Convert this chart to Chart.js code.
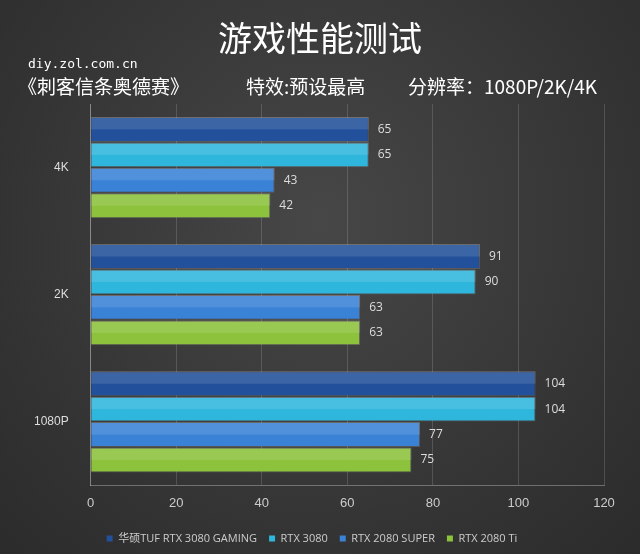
<!DOCTYPE html>
<html>
<head>
<meta charset="utf-8">
<script src="https://cdn.jsdelivr.net/npm/chart.js@4.4.0/dist/chart.umd.min.js"></script>
<style>
  html, body { margin: 0; padding: 0; background: #333; }
  #wrap { width: 640px; height: 554px; background: radial-gradient(ellipse at 50% 40%, #474747 0%, #333 70%, #2b2b2b 100%); }
</style>
</head>
<body>
<div id="wrap"><canvas id="c" width="640" height="554"></canvas></div>
<script>
const categories = ['4K', '2K', '1080P'];
const seriesNames = ['华硕TUF RTX 3080 GAMING', 'RTX 3080', 'RTX 2080 SUPER', 'RTX 2080 Ti'];
const tufValues = [65, 91, 104];
const rtx3080Values = [65, 90, 104];
const rtx2080sValues = [43, 63, 77];
const rtx2080tiValues = [42, 63, 75];
const xTicks = [0, 20, 40, 60, 80, 100, 120];

const colors = ['#22509a', '#2fb6dc', '#3a82d6', '#8cc23c'];
const allValues = [tufValues, rtx3080Values, rtx2080sValues, rtx2080tiValues];

// Titles and value labels
const decor = {
    id: 'decor',
    afterDatasetsDraw(chart) {
        const ctx = chart.ctx;
        ctx.save();
        ctx.font = '12px "Open Sans", sans-serif';
        ctx.textBaseline = 'middle';
        chart.data.datasets.forEach((ds, i) => {
            chart.getDatasetMeta(i).data.forEach((bar, j) => {
                // subtle highlight on top half of each bar
                ctx.fillStyle = 'rgba(255,255,255,0.12)';
                ctx.fillRect(bar.base, bar.y - bar.height / 2, bar.x - bar.base, bar.height / 2);
                ctx.fillStyle = '#ddd';
                ctx.fillText(ds.data[j], bar.x + 9, bar.y);
            });
        });
        ctx.restore();
    },
    afterDraw(chart) {
        const ctx = chart.ctx;
        ctx.save();
        ctx.fillStyle = '#fff';
        ctx.textAlign = 'center';
        ctx.textBaseline = 'middle';
        ctx.font = '34px "Noto Sans CJK SC", sans-serif';
        ctx.fillText('游戏性能测试', 320, 38);
        ctx.textAlign = 'left';
        ctx.font = '13px "DejaVu Sans Mono", monospace';
        ctx.fillText('diy.zol.com.cn', 28, 65);
        ctx.font = '19px "Noto Sans CJK SC", sans-serif';
        ctx.fillText('《刺客信条奥德赛》', 18, 87);
        ctx.fillText('特效:预设最高', 246, 87);
        ctx.fillText('分辨率：1080P/2K/4K', 408, 87);
        ctx.restore();
    }
};

new Chart(document.getElementById('c'), {
    type: 'bar',
    data: {
        labels: categories,
        datasets: seriesNames.map((name, i) => ({
            label: name,
            data: allValues[i],
            backgroundColor: colors[i],
            borderColor: 'rgba(255,255,255,0.15)',
            borderWidth: 1,
            barPercentage: 0.98,
            categoryPercentage: 0.8
        }))
    },
    options: {
        indexAxis: 'y',
        responsive: false,
        animation: false,
        layout: { padding: { top: 104, right: 36, left: 20, bottom: 0 } },
        plugins: {
            legend: {
                position: 'bottom',
                labels: {
                    color: '#ccc',
                    font: { size: 11, family: '"Open Sans", "Noto Sans CJK SC", sans-serif' },
                    boxWidth: 6, boxHeight: 6, padding: 12,
                    generateLabels: () => seriesNames.map((n, i) => ({
                        text: n, fillStyle: colors[i], strokeStyle: colors[i], lineWidth: 0, datasetIndex: i, fontColor: '#ccc'
                    }))
                }
            },
            tooltip: { enabled: false }
        },
        scales: {
            x: {
                min: 0, max: 120,
                afterBuildTicks: (axis) => { axis.ticks = xTicks.map(v => ({ value: v })); },
                grid: { color: 'rgba(255,255,255,0.15)', drawTicks: false },
                border: { color: 'rgba(255,255,255,0.3)' },
                ticks: { color: '#ccc', font: { size: 13 }, padding: 10 }
            },
            y: {
                grid: { display: false },
                border: { color: 'rgba(255,255,255,0.3)' },
                ticks: { color: '#ddd', font: { size: 12 }, padding: 14 }
            }
        }
    },
    plugins: [decor]
});
</script>
</body>
</html>
